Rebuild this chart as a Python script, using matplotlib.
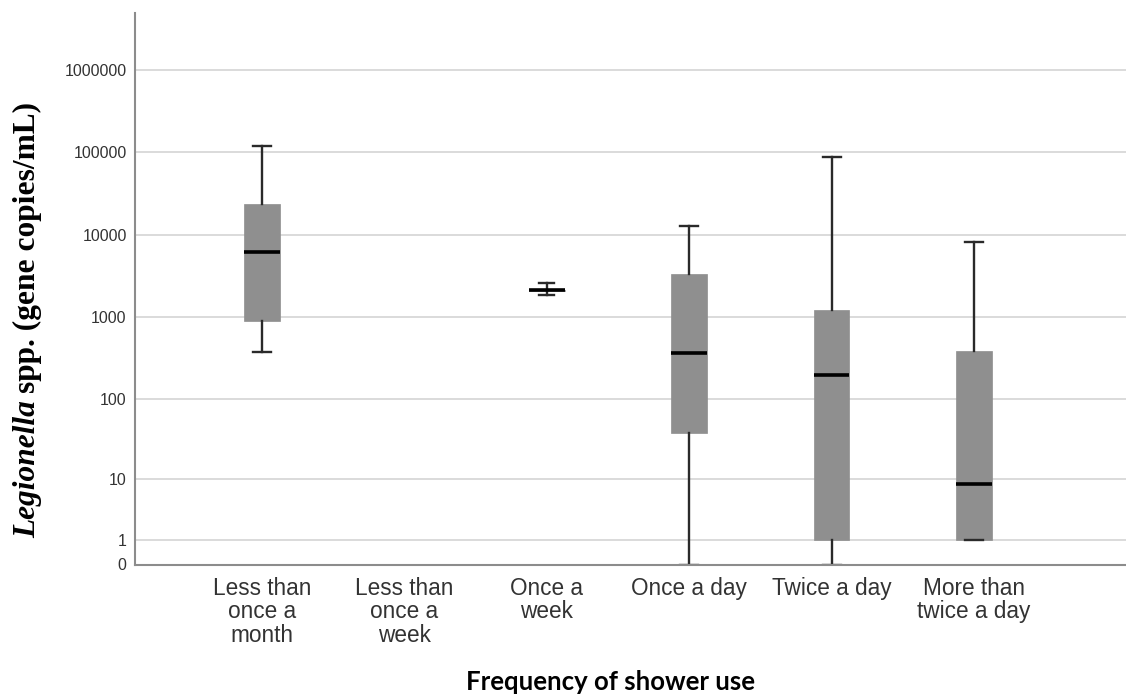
import numpy as np
import matplotlib
matplotlib.use("Agg")
import matplotlib.pyplot as plt

categories = ["Less than\nonce a\nmonth", "Less than\nonce a\nweek", "Once a\nweek",
              "Once a day", "Twice a day", "More than\ntwice a day"]

# five-number summaries in gene copies/mL (no samples for "Less than once a week")
whisker_low = [380, None, 1850, 0, 0, 1]
q1 = [900, None, 2100, 38, 1, 1]
median = [6100, None, 2130, 370, 197, 8.5]
q3 = [23500, None, 2160, 3300, 1220, 390]
whisker_high = [120000, None, 2620, 12700, 87000, 8100]

ytick_values = [0, 1, 10, 100, 1000, 10000, 100000, 1000000]


def tr(v):
    # the axis is log10(x + 1), so 0 can be shown
    return np.log10(v + 1)


W, H = 1126, 695
fig = plt.figure(figsize=(W / 100, H / 100), dpi=100)
ax = fig.add_axes([135 / W, 1 - 564.5 / H, 1 - 135 / W, (564.5 - 13) / H])

stats = []
positions = []
capw = []
for i in range(len(categories)):
    if median[i] is None:
        continue
    stats.append(dict(med=tr(median[i]), q1=tr(q1[i]), q3=tr(q3[i]),
                      whislo=tr(whisker_low[i]), whishi=tr(whisker_high[i]),
                      fliers=[]))
    positions.append(i)
    capw.append(0.105 if q3[i] - q1[i] < 100 else 0.125)

ax.bxp(stats, positions=positions, widths=0.25, patch_artist=True,
       showfliers=False, capwidths=capw,
       boxprops=dict(facecolor="#8f8f8f", edgecolor="#8f8f8f", linewidth=0.5),
       whiskerprops=dict(color="#2a2a2a", linewidth=1.7),
       capprops=dict(color="#2a2a2a", linewidth=1.7),
       medianprops=dict(color="black", linewidth=2.6))

ax.set_xlim(-0.892, 6.067)
ax.set_ylim(0, 6.69)
ax.set_xticks(range(len(categories)))
ax.set_xticklabels(categories, fontsize=16.3, color="#333333",
                   family="Liberation Sans", linespacing=1.02)
ax.set_yticks([tr(v) for v in ytick_values])
ax.set_yticklabels([str(v) for v in ytick_values], fontsize=11.5,
                   color="#333333", family="Liberation Sans")
ax.tick_params(axis="both", length=0)
ax.tick_params(axis="y", pad=6)
ax.tick_params(axis="x", pad=9)

ax.set_axisbelow(True)
ax.yaxis.grid(True, color="#dadada", linewidth=1.4)
ax.spines["top"].set_visible(False)
ax.spines["right"].set_visible(False)
for s in ("left", "bottom"):
    ax.spines[s].set_color("#8c8c8c")
    ax.spines[s].set_linewidth(1.5)

# y label: italic genus name followed by upright text
x0 = 35 / W
y0 = 1 - 538 / H
t1 = fig.text(x0, y0, "Legionella", rotation=90, rotation_mode="anchor",
              ha="left", va="baseline", family="Liberation Serif",
              fontstyle="italic", fontweight="bold", fontsize=22.6)
fig.canvas.draw()
bb = t1.get_window_extent(fig.canvas.get_renderer())
fig.text(x0, (bb.y1 + 7) / H, "spp. (gene copies/mL)", rotation=90,
         rotation_mode="anchor", ha="left", va="baseline",
         family="Liberation Serif", fontweight="bold", fontsize=22.6)

fig.text(611 / W, 1 - 682 / H, "Frequency of shower use", ha="center",
         va="center", family="Lato", fontweight="bold", fontsize=18.5)

fig.savefig("out.png", dpi=100)
